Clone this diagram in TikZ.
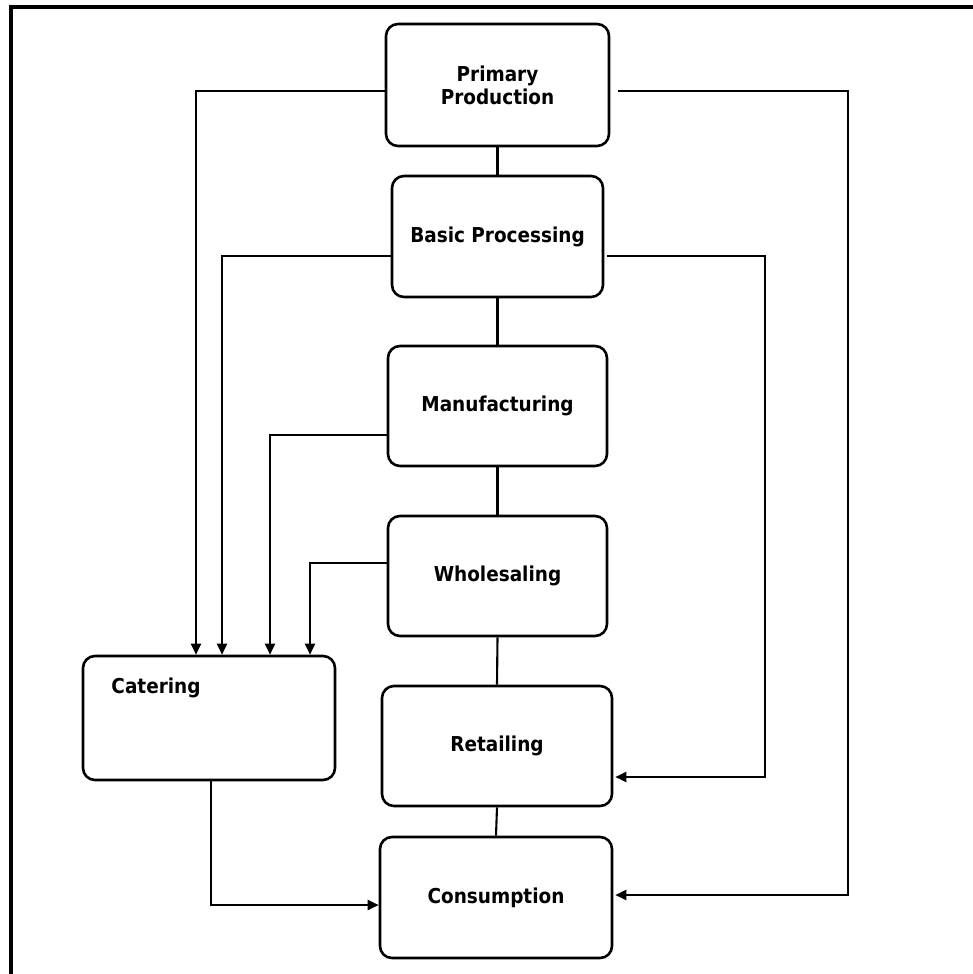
\documentclass[tikz,border=0pt]{standalone}
\usepackage{fontspec}
\setmainfont{DejaVu Sans Condensed}
\usetikzlibrary{arrows.meta,calc}
\begin{document}
\begin{tikzpicture}[x=1pt,y=-1pt,
  stage/.style={draw=black,line width=2.6pt,rounded corners=12pt,fill=white,
    align=center,font=\bfseries\fontsize{20.5}{23}\selectfont,inner sep=0pt},
  lbl/.style={align=center,font=\bfseries\fontsize{20.5}{23}\selectfont,inner sep=0pt},
  conn/.style={draw=black,line width=2.1pt},
  arr/.style={conn,-{Triangle[length=11pt,width=10pt]}},
  frameline/.style={draw=black,line width=3.2pt}]
\useasboundingbox (0,0) rectangle (973,974);
% frame (top and left only)
\coordinate (fTL) at (11,7);
\coordinate (fTR) at (973,7);
\coordinate (fBL) at (11,974);
\draw[frameline] (fBL) -- (fTL) -- (fTR);
% stages
\node[stage,minimum width=223pt,minimum height=122pt] (pp) at (497.5,85) {Primary\\Production};
\node[stage,minimum width=211pt,minimum height=121pt] (bp) at (497.5,236.5) {Basic Processing};
\node[stage,minimum width=219pt,minimum height=120pt] (mf) at (497.5,406) {Manufacturing};
\node[stage,minimum width=219pt,minimum height=120pt] (ws) at (497.5,576) {Wholesaling};
\node[stage,minimum width=230pt,minimum height=120pt] (rt) at (497,746) {Retailing};
\node[stage,minimum width=232pt,minimum height=121pt] (cs) at (496,897.5) {Consumption};
\node[stage,minimum width=252pt,minimum height=124pt] (ct) at (209,718) {};
\node[lbl] (ctl) at (156,688) {Catering};
% vertical chain
\draw[conn] (pp.south) -- (bp.north);
\draw[conn] (bp.south) -- (mf.north);
\draw[conn] (mf.south) -- (ws.north);
\draw[conn] (ws.south) -- (rt.north);
\draw[conn] (rt.south) -- (cs.north);
% column positions
\coordinate (l1) at (196,0);
\coordinate (l2) at (222,0);
\coordinate (l3) at (270,0);
\coordinate (l4) at (310,0);
\coordinate (r1) at (848,0);
\coordinate (r2) at (765,0);
\coordinate (d1) at (211,0);
% left feeds into catering
\draw[arr] ([yshift=-6pt]pp.west) -| (ct.north -| l1);
\draw[arr] ([yshift=-19.5pt]bp.west) -| (ct.north -| l2);
\draw[arr] ([yshift=-29pt]mf.west) -| (ct.north -| l3);
\draw[arr] ([yshift=13pt]ws.west) -| (ct.north -| l4);
% right feeds
\draw[arr] ([xshift=8pt,yshift=-6pt]pp.east) -| ([yshift=2.5pt]cs.east -| r1) -- ([xshift=2pt,yshift=2.5pt]cs.east);
\draw[arr] ([xshift=3pt,yshift=-19.5pt]bp.east) -| ([yshift=-31pt]rt.east -| r2) -- ([xshift=2pt,yshift=-31pt]rt.east);
% catering to consumption
\draw[arr] (ct.south -| d1) |- ([yshift=-7.5pt]cs.west);
\end{tikzpicture}
\end{document}
